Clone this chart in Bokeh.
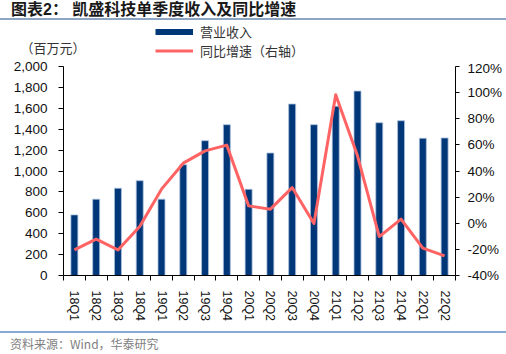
from bokeh.plotting import figure
from bokeh.models import (Range1d, LinearAxis, FixedTicker, NumeralTickFormatter,
                          PrintfTickFormatter, Legend, LegendItem, Label, Div, ColumnDataSource)
from bokeh.layouts import column
from bokeh.embed import file_html
from bokeh.resources import INLINE

# ---- data ----
quarters = ["18Q1", "18Q2", "18Q3", "18Q4", "19Q1", "19Q2", "19Q3", "19Q4",
            "20Q1", "20Q2", "20Q3", "20Q4", "21Q1", "21Q2", "21Q3", "21Q4",
            "22Q1", "22Q2"]
revenue = [580, 730, 835, 907, 730, 1060, 1290, 1443,
           825, 1172, 1641, 1443, 1620, 1765, 1462, 1481, 1313, 1316]
yoy_pct = [-20.4, -12.2, -20.4, -2.5, 26.1, 46.0, 55.4, 59.8,
           13.3, 10.8, 27.3, -0.2, 98.3, 51.6, -10.2, 3.1, -19.1, -25.0]
left_ticks = [0, 200, 400, 600, 800, 1000, 1200, 1400, 1600, 1800, 2000]
right_ticks = [-40, -20, 0, 20, 40, 60, 80, 100, 120]

title_text = "图表2： 凯盛科技单季度收入及同比增速"
unit_text = "（百万元）"
bar_name = "营业收入"
line_name = "同比增速（右轴）"
source_text = "资料来源：Wind，华泰研究"

NAVY = "#003778"
RED = "#ff6363"
CJK = "Noto Sans CJK SC"
NUM = "Liberation Sans"

n = len(quarters)
x_pos = [i + 0.5 for i in range(n)]
src = ColumnDataSource(dict(x=x_pos, q=quarters, rev=revenue, yoy=yoy_pct))
nan = float("nan")

# ---- header strip: unit label + legend ----
head = figure(width=506, height=40, x_range=Range1d(0, 1), y_range=Range1d(0, 1),
              x_axis_type=None, y_axis_type=None, output_backend="svg",
              toolbar_location=None, min_border=0)
head.frame_align = False
head.outline_line_color = None
head.background_fill_color = "white"
head.border_fill_color = "white"
sw_bar = head.line(x=[nan], y=[nan], line_color=NAVY, line_width=6)
sw_line = head.line(x=[nan], y=[nan], line_color=RED, line_width=3)
legend = Legend(items=[LegendItem(label=bar_name, renderers=[sw_bar]),
                       LegendItem(label=line_name, renderers=[sw_line])],
                location=(155, 0), orientation="vertical",
                glyph_width=38, glyph_height=19, label_height=19,
                label_standoff=7, spacing=0, padding=0, margin=0,
                border_line_color=None, background_fill_alpha=0,
                label_text_font=CJK, label_text_font_size="13px",
                label_text_color="#333333")
head.add_layout(legend, "center")
head.add_layout(Label(x=20, y=13, x_units="screen", y_units="screen", text=unit_text,
                      text_font=CJK, text_font_size="13px", text_color="#333333",
                      text_baseline="middle", text_align="left"))

# ---- main chart ----
p = figure(width=506, height=271, x_range=Range1d(0, n), y_range=Range1d(0, 2000),
           x_axis_type=None, y_axis_type=None,
           output_backend="svg", toolbar_location=None,
           min_border_left=63, min_border_right=51, min_border_top=6, min_border_bottom=56)
p.extra_y_ranges = {"pct": Range1d(-40, 120)}
p.outline_line_color = None
p.background_fill_color = "white"
p.border_fill_color = "white"

bars = p.vbar(x="x", top="rev", width=0.32, source=src,
              fill_color=NAVY, line_color="#a9bfdc", line_width=0.8)
line = p.line(x="x", y="yoy", source=src, y_range_name="pct",
              line_color=RED, line_width=3, line_join="round")

xaxis = LinearAxis(ticker=FixedTicker(ticks=x_pos, minor_ticks=list(range(n + 1))),
                   major_label_overrides={xv: q for xv, q in zip(x_pos, quarters)},
                   major_label_orientation="vertical")
xaxis.major_tick_out = 0
xaxis.major_tick_in = 0
xaxis.minor_tick_out = 5
xaxis.minor_tick_in = 0
xaxis.major_label_standoff = 10
xaxis.major_label_text_font = NUM
xaxis.major_label_text_font_size = "12.5px"
xaxis.major_label_text_color = "#111111"
xaxis.axis_line_color = "black"
xaxis.minor_tick_line_color = "black"
p.add_layout(xaxis, "below")

yleft = LinearAxis(ticker=FixedTicker(ticks=left_ticks, minor_ticks=[]),
                   formatter=NumeralTickFormatter(format="0,0"))
yleft.major_tick_out = 5
yleft.major_tick_in = 0
yleft.minor_tick_out = 0
yleft.major_label_standoff = 11
yleft.major_label_text_font = NUM
yleft.major_label_text_font_size = "13.5px"
yleft.major_label_text_color = "#111111"
yleft.axis_line_color = "black"
p.add_layout(yleft, "left")

yright = LinearAxis(y_range_name="pct", ticker=FixedTicker(ticks=right_ticks, minor_ticks=[]),
                    formatter=PrintfTickFormatter(format="%d%%"))
yright.major_tick_out = 4
yright.major_tick_in = 0
yright.minor_tick_out = 0
yright.major_label_standoff = 8
yright.major_label_text_font = NUM
yright.major_label_text_font_size = "13.5px"
yright.major_label_text_color = "#111111"
yright.axis_line_color = "black"
p.add_layout(yright, "right")

title_div = Div(text=title_text, width=506, height=20, margin=0,
                styles={"font-family": f"'{NUM}', '{CJK}'", "font-size": "16px", "font-weight": "bold",
                        "color": "#1a1a1a", "border-bottom": "2px solid #8ea6c4",
                        "box-sizing": "border-box", "padding-left": "11px",
                        "line-height": "19px", "white-space": "pre",
                        "width": "506px", "height": "20px"})
footer_div = Div(text=source_text, width=506, height=23, margin=0,
                 styles={"font-family": f"'{CJK}'", "font-size": "12px",
                         "color": "#808080", "border-top": "2px solid #86a8d4",
                         "box-sizing": "border-box", "padding-left": "10px",
                         "line-height": "22px",
                         "width": "506px", "height": "23px"})

layout = column(title_div, head, p, footer_div, spacing=0, margin=0)
open("out.html", "w").write(file_html(layout, INLINE))
